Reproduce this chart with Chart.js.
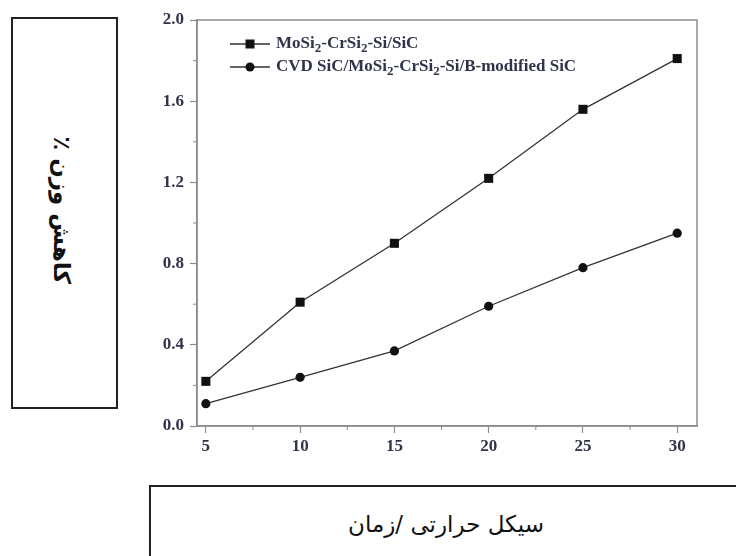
<!DOCTYPE html>
<html>
<head>
<meta charset="utf-8">
<script src="https://cdn.jsdelivr.net/npm/chart.js@4/dist/chart.umd.min.js"></script>
<style>
  body { margin: 0; background: #fff; width: 736px; height: 556px; overflow: hidden; position: relative; }
  #chart { position: absolute; left: 0; top: 0; }
  .box { position: absolute; border: 2px solid #222; background: #fff; box-sizing: border-box; }
  #ybox { left: 11px; top: 17px; width: 107px; height: 392px; }
  #xbox { left: 149px; top: 485px; width: 600px; height: 90px; }
  .fa { position: absolute; font-family: "DejaVu Sans", sans-serif; color: #111; white-space: nowrap; direction: rtl; }
  #ylabel { left: 62px; top: 210px; font-size: 23px; font-weight: bold; transform: translate(-50%, -50%) rotate(90deg); }
  #xlabel { left: 446px; top: 524px; font-size: 23px; transform: translate(-50%, -50%); }
</style>
</head>
<body>
<div class="box" id="ybox"></div>
<div class="box" id="xbox"></div>
<div class="fa" id="ylabel">کاهش وزن ٪</div>
<div class="fa" id="xlabel">سیکل حرارتی /زمان</div>
<canvas id="chart" width="736" height="556"></canvas>
<script>
// داده‌ها
const cycles = [5, 10, 15, 20, 25, 30];
const seriesA = [0.22, 0.61, 0.90, 1.22, 1.56, 1.81];
const seriesB = [0.11, 0.24, 0.37, 0.59, 0.78, 0.95];
const labelA = "MoSi₂-CrSi₂-Si/SiC";
const labelB = "CVD SiC/MoSi₂-CrSi₂-Si/B-modified SiC";
const xTicks = [5, 10, 15, 20, 25, 30];
const yTicks = [0, 0.4, 0.8, 1.2, 1.6, 2.0];
const xMinor = [7.5, 12.5, 17.5, 22.5, 27.5];
const yMinor = [0.2, 0.6, 1.0, 1.4, 1.8];

const axisGray = "#8c8c8c";
const labelColor = "#30344a";
const serif = "'Liberation Serif', 'DejaVu Serif', serif";

// متن با زیرنویس ۲
function drawSubText(ctx, text, x, y) {
  const parts = text.split("₂");
  parts.forEach((p, i) => {
    ctx.font = "bold 17px " + serif;
    ctx.fillText(p, x, y);
    x += ctx.measureText(p).width;
    if (i < parts.length - 1) {
      ctx.font = "bold 13px " + serif;
      ctx.fillText("2", x, y + 5);
      x += ctx.measureText("2").width;
    }
  });
}

// قاب، تیک‌های فرعی و راهنما
const extras = {
  id: "extras",
  afterDraw(chart) {
    const { ctx, chartArea: a, scales } = chart;
    ctx.save();
    ctx.strokeStyle = axisGray;
    ctx.lineWidth = 1.5;
    ctx.strokeRect(a.left, a.top, a.right - a.left, a.bottom - a.top);

    ctx.lineWidth = 1;
    ctx.beginPath();
    xMinor.forEach(v => {
      const px = scales.x.getPixelForValue(v);
      ctx.moveTo(px, a.bottom); ctx.lineTo(px, a.bottom + 4);
    });
    yMinor.forEach(v => {
      const py = scales.y.getPixelForValue(v);
      ctx.moveTo(a.left, py); ctx.lineTo(a.left - 4, py);
    });
    ctx.stroke();

    // راهنما
    ctx.textBaseline = "middle";
    chart.data.datasets.forEach((ds, i) => {
      const y = a.top + 24 + i * 23;
      ctx.strokeStyle = "#333";
      ctx.lineWidth = 1.3;
      ctx.beginPath();
      ctx.moveTo(a.left + 33, y); ctx.lineTo(a.left + 73, y);
      ctx.stroke();
      ctx.fillStyle = "#111";
      if (ds.pointStyle === "rect") {
        ctx.fillRect(a.left + 53 - 4.5, y - 4.5, 9, 9);
      } else {
        ctx.beginPath(); ctx.arc(a.left + 53, y, 4.5, 0, Math.PI * 2); ctx.fill();
      }
      ctx.fillStyle = labelColor;
      drawSubText(ctx, ds.label, a.left + 79, y);
    });
    ctx.restore();
  }
};

new Chart(document.getElementById("chart"), {
  type: "line",
  data: {
    datasets: [
      {
        label: labelA,
        data: cycles.map((c, i) => ({ x: c, y: seriesA[i] })),
        borderColor: "#333", borderWidth: 1.3,
        pointStyle: "rect", pointRadius: 6.4,
        pointBackgroundColor: "#111", pointBorderColor: "#111", pointBorderWidth: 0
      },
      {
        label: labelB,
        data: cycles.map((c, i) => ({ x: c, y: seriesB[i] })),
        borderColor: "#333", borderWidth: 1.3,
        pointStyle: "circle", pointRadius: 4.6,
        pointBackgroundColor: "#111", pointBorderColor: "#111", pointBorderWidth: 0
      }
    ]
  },
  options: {
    responsive: false,
    animation: false,
    layout: { padding: { left: 137, top: 20, right: 39, bottom: 90 } },
    plugins: { legend: { display: false }, tooltip: { enabled: false } },
    scales: {
      x: {
        type: "linear", min: 4.53, max: 31.05,
        afterBuildTicks: s => { s.ticks = xTicks.map(v => ({ value: v })); },
        afterFit: s => { s.height = 40; },
        grid: { drawOnChartArea: false, tickLength: 7, tickColor: axisGray, tickWidth: 1.2 },
        border: { color: axisGray, width: 1.5 },
        ticks: { color: labelColor, font: { family: serif, size: 17, weight: "bold" }, padding: 3, maxRotation: 0 }
      },
      y: {
        min: 0, max: 2.0,
        afterBuildTicks: s => { s.ticks = yTicks.map(v => ({ value: v })); },
        afterFit: s => { s.width = 60; },
        grid: { drawOnChartArea: false, tickLength: 7, tickColor: axisGray, tickWidth: 1.2 },
        border: { color: axisGray, width: 1.5 },
        ticks: {
          color: labelColor, font: { family: serif, size: 17, weight: "bold" }, padding: 6,
          callback: v => v.toFixed(1)
        }
      }
    }
  },
  plugins: [extras]
});
</script>
</body>
</html>
